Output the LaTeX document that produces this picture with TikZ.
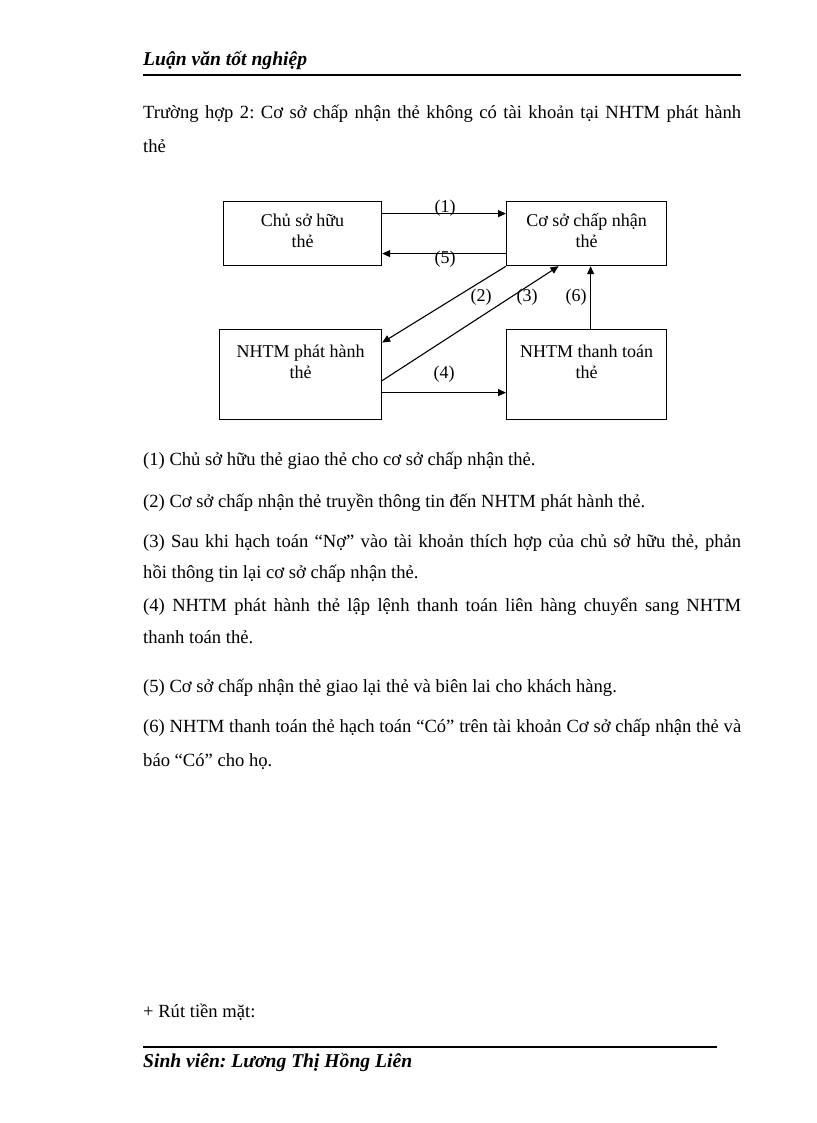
\documentclass[tikz,border=0pt]{standalone}
\usepackage{fontspec}
\setmainfont{Liberation Serif}
\usetikzlibrary{positioning,arrows.meta}
\frenchspacing
\newcommand{\fullline}[1]{\makebox[598pt][s]{#1}}
\newcommand{\topstrut}{\rule{0pt}{17pt}}

\tikzset{
  bodyline/.style={anchor=base west, inner sep=0pt, font=\fontsize{18.6}{21}\selectfont},
  signline/.style={anchor=base west, inner sep=0pt, font=\fontsize{19.6}{22}\selectfont\bfseries\itshape},
  cardbox/.style={draw, line width=1.2pt, anchor=north west, minimum height=#1, inner sep=0pt},
  cardbox/.default=64pt,
  cardtext/.style={inner sep=0pt, align=center, font=\fontsize{18}{21}\selectfont},
  flow/.style={-{Triangle[length=8pt,width=7pt]}, line width=1.1pt},
  tag/.style={inner sep=0pt, font=\fontsize{18}{20}\selectfont}
}

\begin{document}
\begin{tikzpicture}[x=1pt,y=-1pt]
  \fill[white] (0,0) rectangle (816,1123);
  \useasboundingbox (0,0) rectangle (816,1123);

  % header and footer
  \node[signline] (header) at (143,66) {Luận văn tốt nghiệp};
  \draw[line width=1.5pt] (143,75) -- (741,75);
  \draw[line width=1.2pt] (143,1047) -- (717,1047);
  \node[signline] (footer) at (143,1067) {Sinh viên: Lương Thị Hồng Liên};

  % text above the chart
  \node[bodyline] (title) at (143,119) {\fullline{Trường hợp 2: Cơ sở chấp nhận thẻ không có tài khoản tại NHTM phát hành}};
  \node[bodyline] (titleb) at (143,153) {thẻ};

  % the four parties
  \node[cardbox, minimum width=158pt] (chu) at (223,201) {};
  \node[cardbox, minimum width=160pt] (coso) at (506,201) {};
  \node[cardbox=90pt, minimum width=162pt] (phat) at (219,329) {};
  \node[cardbox=90pt, minimum width=160pt] (thanh) at (506,329) {};
  \node[cardtext, below=8pt of chu.north] (chuText) {\topstrut Chủ sở hữu\\thẻ};
  \node[cardtext, below=8pt of coso.north] (cosoText) {\topstrut Cơ sở chấp nhận\\thẻ};
  \node[cardtext, below=11pt of phat.north] (phatText) {\topstrut NHTM phát hành\\thẻ};
  \node[cardtext, below=11pt of thanh.north] (thanhText) {\topstrut NHTM thanh toán\\thẻ};

  % flows
  \draw[flow] ([yshift=20pt]chu.east) -- ([yshift=20pt]coso.west);
  \draw[flow] ([yshift=-20pt]coso.west) -- ([yshift=-20pt]chu.east);
  \draw[flow] (coso.south west) -- ([yshift=32pt]phat.east);
  \draw[flow] ([yshift=-6pt]phat.east) -- ([xshift=-28pt]coso.south);
  \draw[flow] ([yshift=-18pt]phat.east) -- ([yshift=-18pt]thanh.west);
  \draw[flow] ([xshift=4pt]thanh.north) -- ([xshift=4pt]coso.south);

  \node[tag] (t1) at (445,208) {(1)};
  \node[tag] (t5) at (445,259) {(5)};
  \node[tag] (t2) at (481,297) {(2)};
  \node[tag] (t3) at (527,297) {(3)};
  \node[tag] (t6) at (576,297) {(6)};
  \node[tag] (t4) at (444,374) {(4)};

  % notes
  \node[bodyline] (n1) at (143,465) {(1) Chủ sở hữu thẻ giao thẻ cho cơ sở chấp nhận thẻ.};
  \node[bodyline] (n2) at (143,507) {(2) Cơ sở chấp nhận thẻ truyền thông tin đến NHTM phát hành thẻ.};
  \node[bodyline] (n3) at (143,547) {\fullline{(3) Sau khi hạch toán “Nợ” vào tài khoản thích hợp của chủ sở hữu thẻ, phản}};
  \node[bodyline] (n3b) at (143,578) {hồi thông tin lại cơ sở chấp nhận thẻ.};
  \node[bodyline] (n4) at (143,611) {\fullline{(4) NHTM phát hành thẻ lập lệnh thanh toán liên hàng chuyển sang NHTM}};
  \node[bodyline] (n4b) at (143,643) {thanh toán thẻ.};
  \node[bodyline] (n5) at (143,692) {(5) Cơ sở chấp nhận thẻ giao lại thẻ và biên lai cho khách hàng.};
  \node[bodyline] (n6) at (143,732) {\fullline{(6) NHTM thanh toán thẻ hạch toán “Có” trên tài khoản Cơ sở chấp nhận thẻ và}};
  \node[bodyline] (n6b) at (143,766) {báo “Có” cho họ.};

  \node[bodyline] (cash) at (143,1017) {+ Rút tiền mặt:};
\end{tikzpicture}
\end{document}
